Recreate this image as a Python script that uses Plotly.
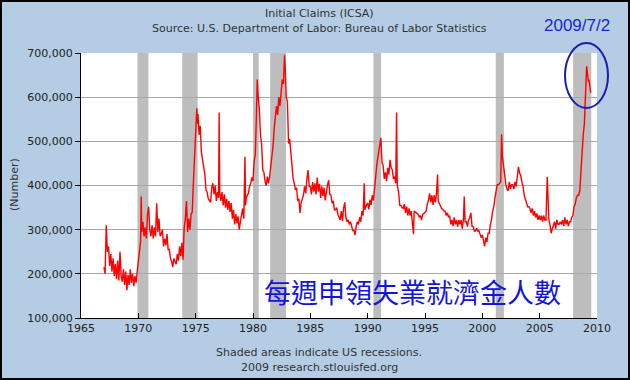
import plotly.graph_objects as go

# ---- data ----
years = [
 1967.0,1967.1,1967.2,1967.3,1967.4,1967.5,1967.6,1967.7,1967.8,1967.9,
 1968.0,1968.1,1968.2,1968.3,1968.4,1968.5,1968.6,1968.7,1968.8,1968.9,
 1969.0,1969.1,1969.2,1969.3,1969.4,1969.5,1969.6,1969.7,1969.8,1969.9,
 1970.0,1970.1,1970.2,1970.25,1970.3,1970.4,1970.5,1970.6,1970.7,1970.8,1970.9,
 1971.0,1971.1,1971.2,1971.3,1971.4,1971.5,1971.6,1971.7,1971.8,1971.9,
 1972.0,1972.1,1972.2,1972.3,1972.4,1972.5,1972.6,1972.7,1972.8,1972.9,
 1973.0,1973.1,1973.2,1973.3,1973.4,1973.5,1973.6,1973.7,1973.8,1973.9,
 1974.0,1974.1,1974.2,1974.3,1974.4,1974.5,1974.6,1974.7,1974.8,1974.9,
 1975.0,1975.1,1975.15,1975.2,1975.3,1975.4,1975.5,1975.6,1975.7,1975.8,1975.9,
 1976.0,1976.1,1976.2,1976.3,1976.4,1976.5,1976.6,1976.7,1976.8,1976.9,
 1977.0,1977.05,1977.1,1977.2,1977.3,1977.4,1977.5,1977.6,1977.7,1977.8,1977.9,
 1978.0,1978.1,1978.2,1978.3,1978.4,1978.5,1978.6,1978.7,1978.8,1978.9,
 1979.0,1979.1,1979.2,1979.3,1979.35,1979.4,1979.5,1979.6,1979.7,1979.8,1979.9,
 1980.0,1980.1,1980.2,1980.3,1980.37,1980.45,1980.55,1980.65,1980.75,1980.85,1980.95,
 1981.05,1981.15,1981.25,1981.35,1981.45,1981.55,1981.65,1981.75,1981.85,1981.95,
 1982.05,1982.15,1982.25,1982.35,1982.45,1982.55,1982.65,1982.75,1982.82,1982.9,
 1983.0,1983.1,1983.2,1983.3,1983.4,1983.5,1983.6,1983.7,1983.8,1983.9,
 1984.0,1984.1,1984.2,1984.3,1984.4,1984.5,1984.6,1984.7,1984.8,1984.9,
 1985.0,1985.1,1985.2,1985.3,1985.4,1985.5,1985.6,1985.7,1985.8,1985.9,
 1986.0,1986.1,1986.2,1986.3,1986.4,1986.5,1986.6,1986.7,1986.8,1986.9,
 1987.0,1987.1,1987.2,1987.3,1987.4,1987.5,1987.6,1987.7,1987.8,1987.9,
 1988.0,1988.1,1988.2,1988.3,1988.4,1988.5,1988.6,1988.7,1988.8,1988.9,
 1989.0,1989.1,1989.2,1989.3,1989.4,1989.5,1989.6,1989.7,1989.75,1989.8,1989.9,
 1990.0,1990.1,1990.2,1990.3,1990.4,1990.5,1990.6,1990.7,1990.8,1990.9,
 1991.0,1991.1,1991.15,1991.25,1991.35,1991.45,1991.55,1991.65,1991.75,1991.85,1991.95,
 1992.05,1992.15,1992.25,1992.35,1992.45,1992.52,1992.58,1992.7,1992.8,1992.9,
 1993.0,1993.1,1993.2,1993.3,1993.4,1993.5,1993.6,1993.7,1993.8,1993.9,
 1994.0,1994.05,1994.15,1994.3,1994.4,1994.5,1994.6,1994.7,1994.8,1994.9,
 1995.0,1995.1,1995.2,1995.3,1995.4,1995.5,1995.6,1995.7,1995.8,1995.9,
 1996.0,1996.1,1996.15,1996.25,1996.35,1996.45,1996.55,1996.65,1996.75,1996.85,1996.95,
 1997.05,1997.15,1997.25,1997.35,1997.45,1997.55,1997.65,1997.75,1997.85,1997.95,
 1998.05,1998.15,1998.25,1998.35,1998.42,1998.5,1998.6,1998.7,1998.8,1998.9,
 1999.0,1999.1,1999.2,1999.3,1999.4,1999.5,1999.6,1999.7,1999.8,1999.9,
 2000.0,2000.1,2000.2,2000.3,2000.4,2000.5,2000.6,2000.7,2000.8,2000.9,
 2001.0,2001.1,2001.2,2001.3,2001.4,2001.5,2001.6,2001.68,2001.75,2001.85,2001.95,
 2002.05,2002.15,2002.25,2002.35,2002.45,2002.55,2002.65,2002.75,2002.85,2002.95,
 2003.05,2003.15,2003.25,2003.35,2003.45,2003.55,2003.65,2003.75,2003.85,2003.95,
 2004.05,2004.15,2004.25,2004.35,2004.45,2004.55,2004.65,2004.75,2004.85,2004.95,
 2005.05,2005.15,2005.25,2005.35,2005.45,2005.55,2005.66,2005.72,2005.8,2005.9,
 2006.0,2006.1,2006.2,2006.3,2006.4,2006.5,2006.6,2006.7,2006.8,2006.9,
 2007.0,2007.1,2007.2,2007.3,2007.4,2007.5,2007.6,2007.7,2007.8,2007.9,
 2008.0,2008.1,2008.2,2008.3,2008.4,2008.5,2008.6,2008.7,2008.75,2008.8,2008.9,2008.95,
 2009.0,2009.05,2009.1,2009.15,2009.2,2009.25,2009.3,2009.35,2009.4,2009.45,
]
claims_k = [
 215,200,310,250,262,218,245,205,235,195,
 222,188,230,185,250,195,182,210,175,205,
 163,198,175,210,180,200,172,195,180,205,
 215,255,275,375,295,318,285,305,280,335,352,
 300,285,310,280,305,285,360,295,325,285,
 290,300,262,280,265,290,255,255,235,228,
 215,235,228,222,245,230,262,240,270,232,
 305,325,365,295,325,300,335,340,405,455,
 515,575,540,562,515,535,475,460,445,425,390,
 385,370,365,362,395,405,380,400,365,385,
 372,565,385,365,385,355,380,350,370,345,365,
 340,360,325,345,312,335,315,330,300,318,
 338,348,325,465,355,372,378,382,398,405,418,
 410,455,470,560,640,600,575,515,495,435,430,
 410,400,420,405,420,440,460,490,530,550,
 580,560,600,580,620,640,630,695,660,600,
 590,495,505,475,445,415,405,390,395,365,
 370,338,362,372,378,398,382,415,435,398,
 398,380,408,386,405,380,418,386,404,372,
 398,376,395,366,390,402,412,380,378,360,
 365,345,345,350,335,330,322,342,320,348,
 362,328,318,322,312,318,308,298,298,288,
 308,318,312,328,318,342,332,405,345,350,356,
 360,346,368,356,378,366,392,428,448,466,
 482,492,508,452,445,415,430,410,440,425,458,
 440,435,415,420,405,565,400,385,355,355,
 350,348,358,338,352,332,348,332,342,322,
 290,342,340,338,335,328,332,322,335,336,
 338,342,358,366,382,362,378,356,378,362,
 382,425,365,358,355,348,346,342,342,332,338,
 328,332,312,322,308,328,312,322,307,322,
 312,322,302,322,375,318,318,307,322,327,
 338,308,307,297,297,303,297,298,287,282,
 288,272,262,282,272,292,292,312,322,342,
 352,372,392,402,402,405,408,516,465,445,415,
 402,392,388,408,392,402,402,392,408,398,
 418,442,428,422,408,398,378,368,358,352,
 352,348,338,348,332,342,328,337,322,332,
 322,332,318,332,322,322,420,345,322,312,
 292,302,308,318,302,322,312,312,318,312,
 322,308,328,312,322,308,318,318,328,332,
 352,358,372,378,378,388,432,478,500,515,540,590,
 615,640,670,655,645,635,640,625,615,610,
]
claims = [v * 1000 for v in claims_k]

recession_start = [1969.92, 1973.83, 1980.0, 1981.5, 1990.5, 2001.17, 2007.92]
recession_end   = [1970.88, 1975.17, 1980.5, 1982.88, 1991.17, 2001.88, 2009.5]

x_ticks = [1965, 1970, 1975, 1980, 1985, 1990, 1995, 2000, 2005, 2010]

# ---- figure ----
W, H = 630, 380
L, R, T, B = 81, 33, 53, 62
pw, ph = W - L - R, H - T - B

def px(xpix):
    return (xpix - L) / pw

def py(ypix):
    return (H - B - ypix) / ph

fig = go.Figure()
fig.add_trace(go.Scatter(x=years, y=claims, mode="lines",
                         line=dict(color="#FF0000", width=1.4),
                         hoverinfo="skip", showlegend=False))

shapes = []
for s, e in zip(recession_start, recession_end):
    shapes.append(dict(type="rect", xref="x", yref="paper", x0=s, x1=e, y0=0, y1=1,
                       fillcolor="#BDBDBD", line=dict(width=0), layer="between"))
# ellipse highlighting the latest value
shapes.append(dict(type="circle", xref="paper", yref="paper",
                   x0=px(565), x1=px(608), y0=py(108), y1=py(43),
                   line=dict(color="#1C1CB4", width=2), fillcolor="rgba(0,0,0,0)", layer="above"))
# outer frame
shapes.append(dict(type="rect", xref="paper", yref="paper",
                   x0=px(1), x1=px(629), y0=py(379), y1=py(1),
                   line=dict(color="#000000", width=2), fillcolor="rgba(0,0,0,0)", layer="above"))

txt_font = dict(family="DejaVu Sans", size=11, color="#333333")

def note(text, xpix, ypix, font, angle=0):
    return dict(text=text, x=px(xpix), y=py(ypix), xref="paper", yref="paper",
                xanchor="center", yanchor="middle", showarrow=False,
                textangle=angle, font=font)

annotations = [
    note("Initial Claims (ICSA)", 319, 13, txt_font),
    note("Source: U.S. Department of Labor: Bureau of Labor Statistics", 319, 28, txt_font),
    note("Shaded areas indicate US recessions.", 319, 352, txt_font),
    note("2009 research.stlouisfed.org", 319, 367, txt_font),
    note("(Number)", 14, 185, txt_font, angle=-90),
    note("2009/7/2", 577, 25, dict(family="Liberation Sans", size=17, color="#1F1FD8")),
    note("每週申領失業就濟金人數", 412, 291,
         dict(family="Noto Sans CJK TC", size=27, color="#1414E0")),
]

fig.update_layout(
    width=W, height=H,
    margin=dict(l=L, r=R, t=T, b=B, pad=0),
    paper_bgcolor="#B4CDE4", plot_bgcolor="#FFFFFF",
    shapes=shapes, annotations=annotations, showlegend=False,
    font=dict(family="DejaVu Sans", size=11, color="#222222"),
)
fig.update_xaxes(range=[1965, 2010], tickvals=x_ticks, tickformat="d",
                 ticks="inside", ticklen=5, tickcolor="#000000",
                 showline=True, linecolor="#000000", linewidth=1,
                 showgrid=False, zeroline=False, fixedrange=True,
                 tickfont=dict(size=11, color="#222222"))
fig.update_yaxes(range=[100000, 700000], dtick=100000, tickformat=",",
                 ticks="outside", ticklen=5, tickcolor="#000000",
                 showline=True, linecolor="#000000", linewidth=1,
                 showgrid=True, gridcolor="#A8A8A8", gridwidth=1,
                 zeroline=False, fixedrange=True,
                 tickfont=dict(size=11, color="#222222"))

fig.write_html("out.html", config={"displayModeBar": False},
               post_script="document.body.style.margin='0px';document.body.style.overflow='hidden';")
